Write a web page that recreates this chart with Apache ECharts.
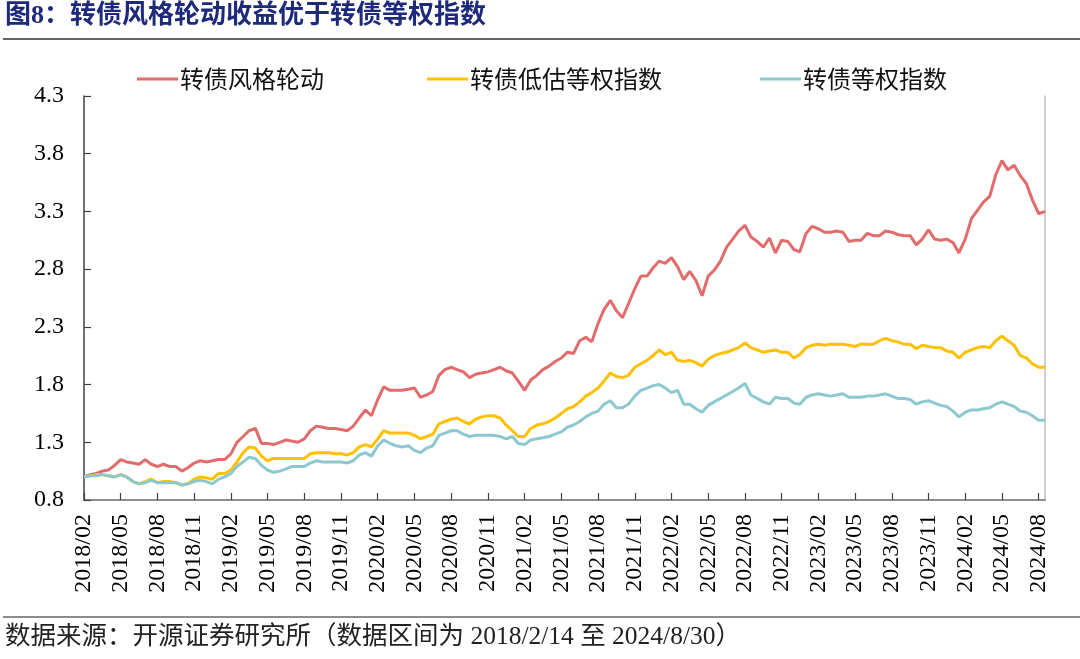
<!DOCTYPE html>
<html>
<head>
<meta charset="utf-8">
<script src="https://cdn.jsdelivr.net/npm/echarts@6/dist/echarts.min.js"></script>
<style>
html,body{margin:0;padding:0;background:#fff;}
#chart{width:1080px;height:659px;}
</style>
</head>
<body>
<div id="chart"></div>
<script>
const dates = [
'2018-02-14','2018-02-28','2018-03-14','2018-03-29','2018-04-14','2018-04-29','2018-05-14','2018-05-29','2018-06-14','2018-06-29','2018-07-14','2018-07-29','2018-08-14','2018-08-29','2018-09-14','2018-09-29','2018-10-14','2018-10-29','2018-11-14','2018-11-29','2018-12-14','2018-12-29',
'2019-01-14','2019-01-29','2019-02-14','2019-02-28','2019-03-14','2019-03-29','2019-04-14','2019-04-29','2019-05-14','2019-05-29','2019-06-14','2019-06-29','2019-07-14','2019-07-29','2019-08-14','2019-08-29','2019-09-14','2019-09-29','2019-10-14','2019-10-29','2019-11-14','2019-11-29','2019-12-14','2019-12-29',
'2020-01-14','2020-01-29','2020-02-14','2020-02-28','2020-03-14','2020-03-29','2020-04-14','2020-04-29','2020-05-14','2020-05-29','2020-06-14','2020-06-29','2020-07-14','2020-07-29','2020-08-14','2020-08-29','2020-09-14','2020-09-29','2020-10-14','2020-10-29','2020-11-14','2020-11-29','2020-12-14','2020-12-29',
'2021-01-14','2021-01-29','2021-02-14','2021-02-28','2021-03-14','2021-03-29','2021-04-14','2021-04-29','2021-05-14','2021-05-29','2021-06-14','2021-06-29','2021-07-14','2021-07-29','2021-08-14','2021-08-29','2021-09-14','2021-09-29','2021-10-14','2021-10-29','2021-11-14','2021-11-29','2021-12-14','2021-12-29',
'2022-01-14','2022-01-29','2022-02-14','2022-02-28','2022-03-14','2022-03-29','2022-04-14','2022-04-29','2022-05-14','2022-05-29','2022-06-14','2022-06-29','2022-07-14','2022-07-29','2022-08-14','2022-08-29','2022-09-14','2022-09-29','2022-10-14','2022-10-29','2022-11-14','2022-11-29','2022-12-14','2022-12-29',
'2023-01-14','2023-01-29','2023-02-14','2023-02-28','2023-03-14','2023-03-29','2023-04-14','2023-04-29','2023-05-14','2023-05-29','2023-06-14','2023-06-29','2023-07-14','2023-07-29','2023-08-14','2023-08-29','2023-09-14','2023-09-29','2023-10-14','2023-10-29','2023-11-14','2023-11-29','2023-12-14','2023-12-29',
'2024-01-14','2024-01-29','2024-02-14','2024-02-29','2024-03-14','2024-03-29','2024-04-14','2024-04-29','2024-05-14','2024-05-29','2024-06-14','2024-06-29','2024-07-14','2024-07-29','2024-08-14','2024-08-30'
];

// 转债风格轮动
const rotation = [
1.00,1.02,1.03,1.05,1.06,1.10,1.15,1.13,1.12,1.11,
1.15,1.11,1.09,1.11,1.09,1.09,1.05,1.08,1.12,1.14,
1.13,1.14,1.15,1.15,1.20,1.30,1.35,1.40,1.42,1.29,
1.29,1.28,1.30,1.32,1.31,1.30,1.33,1.40,1.44,1.43,
1.42,1.42,1.41,1.40,1.44,1.51,1.58,1.53,1.67,1.78,
1.75,1.75,1.75,1.76,1.77,1.69,1.71,1.74,1.88,1.93,
1.95,1.93,1.91,1.86,1.89,1.90,1.91,1.93,1.95,1.92,
1.90,1.83,1.75,1.84,1.88,1.93,1.96,2.00,2.03,2.08,
2.07,2.18,2.21,2.17,2.33,2.45,2.53,2.44,2.38,2.50,
2.63,2.74,2.74,2.81,2.87,2.85,2.90,2.82,2.71,2.78,
2.70,2.57,2.74,2.79,2.87,2.99,3.06,3.13,3.18,3.08,
3.04,2.99,3.07,2.94,3.05,3.04,2.97,2.95,3.11,3.17,
3.15,3.12,3.12,3.13,3.12,3.04,3.05,3.05,3.11,3.09,
3.09,3.13,3.12,3.10,3.09,3.09,3.01,3.06,3.14,3.06,
3.05,3.06,3.03,2.94,3.06,3.24,3.31,3.38,3.43,3.62,
3.74,3.66,3.70,3.61,3.54,3.40,3.28,3.30
];

// 转债低估等权指数
const lowValuation = [
1.00,1.01,1.02,1.02,1.01,1.00,1.02,1.00,0.96,0.94,
0.96,0.98,0.95,0.96,0.96,0.95,0.93,0.94,0.98,1.00,
0.99,0.98,1.03,1.03,1.06,1.13,1.21,1.26,1.25,1.18,
1.14,1.16,1.16,1.16,1.16,1.16,1.16,1.20,1.21,1.21,
1.21,1.20,1.20,1.19,1.21,1.26,1.28,1.26,1.33,1.40,
1.38,1.38,1.38,1.38,1.36,1.33,1.35,1.37,1.46,1.48,
1.50,1.51,1.48,1.46,1.50,1.52,1.53,1.53,1.51,1.45,
1.40,1.35,1.35,1.42,1.45,1.46,1.48,1.51,1.55,1.59,
1.61,1.65,1.70,1.73,1.77,1.83,1.90,1.87,1.86,1.88,
1.95,1.98,2.01,2.05,2.10,2.06,2.08,2.01,2.00,2.01,
1.99,1.96,2.02,2.05,2.07,2.08,2.10,2.12,2.16,2.12,
2.10,2.08,2.09,2.10,2.08,2.08,2.03,2.06,2.12,2.14,
2.15,2.14,2.15,2.15,2.15,2.14,2.13,2.15,2.15,2.15,
2.18,2.20,2.18,2.17,2.15,2.15,2.11,2.14,2.13,2.12,
2.12,2.09,2.08,2.03,2.08,2.10,2.12,2.13,2.12,2.18,
2.22,2.18,2.14,2.05,2.03,1.98,1.95,1.95
];

// 转债等权指数
const equalWeight = [
1.00,1.01,1.01,1.02,1.01,1.00,1.02,1.00,0.96,0.94,
0.95,0.97,0.95,0.95,0.95,0.95,0.93,0.94,0.96,0.97,
0.96,0.94,0.98,1.00,1.03,1.09,1.13,1.17,1.16,1.10,
1.06,1.04,1.05,1.07,1.09,1.09,1.09,1.12,1.14,1.13,
1.13,1.13,1.13,1.12,1.14,1.19,1.21,1.18,1.27,1.32,
1.29,1.27,1.26,1.27,1.23,1.21,1.25,1.27,1.36,1.38,
1.40,1.40,1.37,1.35,1.36,1.36,1.36,1.36,1.35,1.33,
1.35,1.29,1.28,1.32,1.33,1.34,1.35,1.37,1.39,1.43,
1.45,1.48,1.52,1.55,1.57,1.63,1.66,1.60,1.60,1.63,
1.70,1.75,1.77,1.79,1.80,1.77,1.73,1.75,1.63,1.63,
1.59,1.56,1.62,1.65,1.68,1.71,1.74,1.77,1.81,1.71,
1.68,1.65,1.63,1.69,1.68,1.68,1.64,1.63,1.69,1.71,
1.72,1.71,1.70,1.71,1.72,1.69,1.69,1.69,1.70,1.70,
1.71,1.72,1.70,1.68,1.68,1.67,1.63,1.65,1.66,1.64,
1.62,1.61,1.57,1.52,1.56,1.58,1.58,1.59,1.60,1.63,
1.65,1.63,1.61,1.57,1.56,1.53,1.49,1.49
];

const seriesNames = ['转债风格轮动', '转债低估等权指数', '转债等权指数'];
const xTickLabels = [
'2018/02','2018/05','2018/08','2018/11','2019/02','2019/05','2019/08','2019/11',
'2020/02','2020/05','2020/08','2020/11','2021/02','2021/05','2021/08','2021/11',
'2022/02','2022/05','2022/08','2022/11','2023/02','2023/05','2023/08','2023/11',
'2024/02','2024/05','2024/08'
];
const yTickLabels = ['0.8','1.3','1.8','2.3','2.8','3.3','3.8','4.3'];
const titleText = '图8：转债风格轮动收益优于转债等权指数';
const sourceText = '数据来源：开源证券研究所（数据区间为 2018/2/14 至 2024/8/30）';

// Month index measured from 2018-02-14 (axis origin)
function daysInMonth(y, m) { return new Date(y, m, 0).getDate(); }
function monthIndex(s) {
  const p = s.split(/[-\/]/).map(Number);
  const y = p[0], m = p[1];
  let v = (y - 2018) * 12 + (m - 2);
  if (p.length > 2) v += (p[2] - 14) / daysInMonth(y, m);
  return v;
}
const xVals = dates.map(monthIndex);
const xTickValues = xTickLabels.map(monthIndex);
const yTickValues = yTickLabels.map(Number);
const xMax = xVals[xVals.length - 1];

function pairs(vals) { return vals.map((v, i) => [xVals[i], v]); }

const colors = ['#E26B6B', '#FFC000', '#8DC8CE'];
const serifCJK = "'Liberation Serif','Times New Roman','Noto Sans CJK SC',serif";

const chart = echarts.init(document.getElementById('chart'), null, {renderer: 'canvas'});
const legendLefts = [137, 427, 760];

const option = {
  animation: false,
  backgroundColor: '#ffffff',
  grid: {left: 84, right: 35, top: 96, bottom: 159, containLabel: false},
  legend: seriesNames.map((n, i) => ({
    data: [n],
    left: legendLefts[i],
    top: 67,
    padding: 0,
    icon: 'rect',
    itemWidth: 41,
    itemHeight: 3,
    itemGap: 0,
    textStyle: {fontFamily: "'Noto Sans CJK SC'", fontSize: 24, color: '#111', padding: [0,0,0,-3]}
  })),
  xAxis: {
    type: 'value',
    min: 0,
    max: xMax,
    splitLine: {show: false},
    axisLine: {show: true, lineStyle: {color: '#6b6b6b', width: 1.5}},
    axisTick: {show: true, inside: true, length: 7, lineStyle: {color: '#404040', width: 1.2}, customValues: xTickValues},
    axisLabel: {
      customValues: xTickValues,
      rotate: 90,
      margin: 14,
      fontSize: 24,
      fontFamily: "'Liberation Serif','Times New Roman',serif",
      color: '#000',
      formatter: function (v) {
        const i = xTickValues.findIndex(t => Math.abs(t - v) < 1e-6);
        return i >= 0 ? xTickLabels[i] : '';
      }
    }
  },
  yAxis: [{
    type: 'value',
    min: yTickValues[0],
    max: yTickValues[yTickValues.length - 1],
    splitLine: {show: false},
    axisLine: {show: true, lineStyle: {color: '#404040', width: 1.5}},
    axisTick: {show: true, inside: true, length: 7, lineStyle: {color: '#404040', width: 1.2}, customValues: yTickValues},
    axisLabel: {
      customValues: yTickValues,
      margin: 20,
      fontSize: 24,
      fontFamily: "'Liberation Serif','Times New Roman',serif",
      color: '#000',
      formatter: function (v) { return Number(v).toFixed(1); }
    }
  }, {
    type: 'value',
    position: 'right',
    min: yTickValues[0],
    max: yTickValues[yTickValues.length - 1],
    splitLine: {show: false},
    axisLine: {show: true, lineStyle: {color: '#BFBFBF', width: 1.5}},
    axisTick: {show: false},
    axisLabel: {show: false}
  }],
  series: [rotation, lowValuation, equalWeight].map((vals, i) => ({
    name: seriesNames[i],
    type: 'line',
    yAxisIndex: 0,
    data: pairs(vals),
    symbol: 'none',
    showSymbol: false,
    smooth: false,
    lineStyle: {color: colors[i], width: 3},
    itemStyle: {color: colors[i]},
    z: 2 + i
  })),
  graphic: [
    {type: 'text', left: 5, top: 3, style: {text: titleText, fontSize: 26, fontWeight: 'bold', fontFamily: serifCJK, fill: '#1D2A7C'}},
    {type: 'line', shape: {x1: 3, y1: 39, x2: 1080, y2: 39}, style: {stroke: '#333', lineWidth: 1.5}},
    {type: 'line', shape: {x1: 3, y1: 617, x2: 1080, y2: 617}, style: {stroke: '#8c8c8c', lineWidth: 2}},
    {type: 'text', left: 5, top: 625, style: {text: sourceText, fontSize: 25.5, fontFamily: serifCJK, fill: '#222'}}
  ]
};
chart.setOption(option);
</script>
</body>
</html>
